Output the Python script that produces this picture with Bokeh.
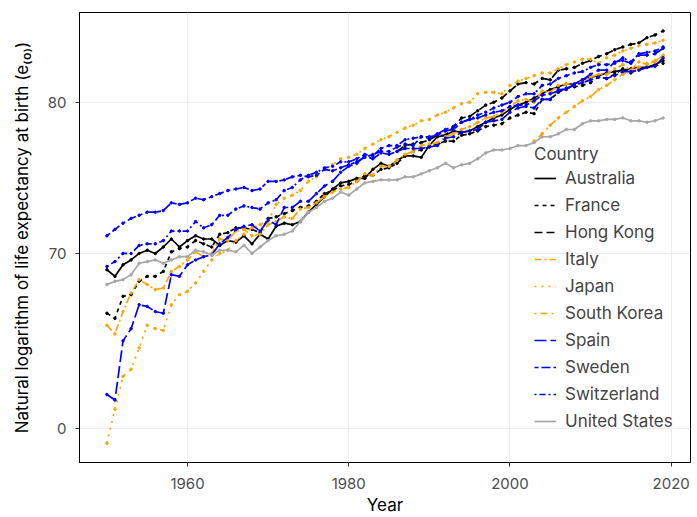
from bokeh.plotting import figure
from bokeh.models import (Range1d, FixedTicker, Legend, LegendItem,
                          BasicTickFormatter, ColumnDataSource)
from bokeh.embed import file_html
from bokeh.resources import INLINE

years = list(range(1950, 2020))
years_hk = list(range(1986, 2020))
years_kr = list(range(2003, 2020))

australia = [69.0, 68.6, 69.3, 69.6, 70.0, 70.2, 70.0, 70.4, 70.9, 70.4,
             70.8, 71.1, 70.9, 70.9, 70.5, 70.8, 70.7, 71.1, 70.6, 71.2,
             70.9, 71.7, 71.9, 71.8, 72.0, 72.6, 73.1, 73.6, 74.1, 74.5,
             74.6, 74.8, 74.8, 75.4, 75.8, 75.6, 76.0, 76.3, 76.3, 76.2,
             77.0, 77.6, 77.7, 78.0, 77.9, 78.0, 78.3, 78.6, 78.9, 79.1,
             79.5, 79.8, 80.0, 80.3, 80.6, 80.9, 81.1, 81.3, 81.3, 81.6,
             81.8, 81.9, 82.1, 82.2, 82.3, 82.4, 82.5, 82.5, 82.7, 83.0]
france = [66.4, 66.1, 67.4, 67.5, 68.3, 68.6, 68.6, 68.9, 70.1, 70.3,
          70.4, 70.8, 70.6, 70.4, 71.2, 71.3, 71.6, 71.6, 71.5, 71.3,
          72.2, 72.3, 72.5, 72.7, 72.9, 73.0, 73.3, 73.8, 74.0, 74.3,
          74.4, 74.6, 75.0, 75.0, 75.4, 75.5, 75.8, 76.3, 76.6, 76.7,
          76.9, 77.1, 77.3, 77.3, 77.7, 77.8, 78.0, 78.3, 78.4, 78.5,
          78.9, 79.1, 79.3, 79.2, 80.2, 80.2, 80.7, 81.0, 81.1, 81.2,
          81.4, 81.8, 81.7, 82.0, 82.4, 82.1, 82.4, 82.5, 82.6, 82.8]
hong_kong = [76.6, 77.0, 77.1, 77.2, 77.4, 77.7, 77.7, 78.3, 78.9, 79.0,
             79.4, 79.8, 80.0, 80.3, 80.8, 81.3, 81.4, 81.3, 81.7, 81.6,
             82.3, 82.4, 82.5, 82.8, 83.0, 83.3, 83.5, 83.8, 84.0, 84.2,
             84.3, 84.7, 84.9, 85.2]
italy = [65.7, 65.2, 66.5, 67.6, 68.4, 68.1, 67.8, 67.9, 68.9, 69.2,
         69.6, 70.1, 69.8, 70.0, 70.9, 70.8, 71.4, 71.5, 71.1, 71.2,
         71.8, 72.0, 72.3, 72.2, 72.8, 72.9, 73.2, 73.6, 73.9, 74.1,
         74.2, 74.6, 75.1, 75.0, 75.6, 75.6, 76.0, 76.4, 76.6, 77.0,
         77.1, 77.2, 77.6, 77.8, 78.1, 78.3, 78.6, 78.9, 79.0, 79.3,
         79.7, 80.1, 80.2, 80.0, 80.8, 80.7, 81.2, 81.3, 81.3, 81.5,
         81.8, 82.0, 82.0, 82.4, 82.7, 82.3, 82.9, 82.7, 83.0, 83.3]
japan = [59.2, 61.0, 62.8, 63.2, 64.4, 65.7, 65.5, 65.4, 66.9, 67.5,
         67.7, 68.2, 68.9, 69.6, 70.0, 70.2, 70.8, 71.2, 71.6, 71.8,
         72.0, 73.1, 73.5, 73.7, 74.0, 74.6, 74.9, 75.4, 75.7, 76.1,
         76.2, 76.4, 76.8, 77.1, 77.4, 77.6, 77.9, 78.2, 78.4, 78.7,
         78.8, 79.1, 79.3, 79.6, 79.9, 80.0, 80.6, 80.7, 80.7, 80.6,
         81.2, 81.5, 81.7, 81.9, 82.1, 82.1, 82.4, 82.7, 82.9, 83.1,
         83.1, 82.8, 83.2, 83.4, 83.7, 83.9, 84.1, 84.2, 84.3, 84.5]
south_korea = [77.3, 77.8, 78.4, 78.9, 79.3, 79.7, 80.1, 80.4, 80.9, 81.2,
               81.6, 82.0, 82.2, 82.5, 82.8, 82.9, 83.4]
spain = [61.8, 61.5, 64.8, 65.5, 66.9, 66.8, 66.5, 66.4, 68.7, 68.6,
         69.3, 69.6, 69.8, 69.9, 70.6, 71.0, 71.5, 71.7, 71.8, 71.4,
         72.1, 71.8, 72.9, 72.9, 73.3, 73.3, 73.8, 74.3, 74.6, 75.2,
         75.6, 75.8, 76.3, 76.1, 76.5, 76.4, 76.6, 76.8, 76.8, 76.8,
         76.9, 77.0, 77.5, 77.6, 77.9, 78.0, 78.1, 78.6, 78.7, 78.8,
         79.3, 79.6, 79.7, 79.6, 80.2, 80.2, 80.9, 80.9, 81.3, 81.6,
         82.0, 82.3, 82.3, 82.9, 83.0, 82.8, 83.4, 83.4, 83.5, 83.9]
sweden = [71.1, 71.5, 71.9, 72.2, 72.4, 72.6, 72.6, 72.7, 73.2, 73.1,
          73.2, 73.5, 73.4, 73.6, 73.8, 74.0, 74.1, 74.2, 74.0, 74.1,
          74.6, 74.6, 74.7, 74.9, 75.0, 74.9, 75.0, 75.4, 75.3, 75.5,
          75.7, 75.9, 76.2, 76.4, 76.6, 76.6, 76.9, 77.1, 77.0, 77.6,
          77.6, 77.7, 78.0, 78.1, 78.6, 78.8, 78.9, 79.1, 79.3, 79.4,
          79.7, 79.8, 79.8, 80.1, 80.5, 80.6, 80.8, 81.0, 81.2, 81.4,
          81.6, 81.8, 81.7, 81.9, 82.2, 82.2, 82.3, 82.5, 82.6, 83.2]
switzerland = [69.2, 69.5, 70.0, 70.0, 70.5, 70.6, 70.6, 70.8, 71.4, 71.4,
               71.4, 72.0, 71.6, 71.8, 72.4, 72.4, 72.8, 73.0, 72.9, 72.8,
               73.2, 73.4, 74.0, 74.2, 74.7, 75.0, 75.2, 75.5, 75.6, 75.9,
               75.9, 76.1, 76.4, 76.3, 76.8, 77.0, 77.0, 77.4, 77.5, 77.6,
               77.5, 77.8, 78.1, 78.3, 78.6, 78.8, 79.1, 79.3, 79.6, 79.8,
               80.0, 80.4, 80.6, 80.6, 81.2, 81.3, 81.7, 81.9, 82.1, 82.2,
               82.5, 82.7, 82.7, 82.8, 83.2, 82.9, 83.5, 83.6, 83.7, 84.0]
united_states = [68.1, 68.3, 68.4, 68.7, 69.4, 69.5, 69.6, 69.4, 69.6, 69.8,
                 69.8, 70.2, 70.1, 69.9, 70.2, 70.2, 70.1, 70.5, 70.0, 70.4,
                 70.8, 71.1, 71.2, 71.4, 72.0, 72.6, 72.9, 73.3, 73.5, 73.9,
                 73.7, 74.1, 74.5, 74.6, 74.7, 74.7, 74.7, 74.9, 74.9, 75.1,
                 75.3, 75.5, 75.8, 75.5, 75.7, 75.8, 76.1, 76.5, 76.7, 76.7,
                 76.8, 77.0, 77.0, 77.2, 77.6, 77.6, 77.8, 78.1, 78.1, 78.5,
                 78.7, 78.7, 78.8, 78.8, 78.9, 78.7, 78.7, 78.6, 78.7, 78.9]

countries = ["Australia", "France", "Hong Kong", "Italy", "Japan",
             "South Korea", "Spain", "Sweden", "Switzerland", "United States"]
series = [(years, australia), (years, france), (years_hk, hong_kong),
          (years, italy), (years, japan), (years_kr, south_korea),
          (years, spain), (years, sweden), (years, switzerland),
          (years, united_states)]
colors = ["#000000", "#000000", "#000000", "#FFA500", "#FFA500", "#FFA500",
          "#0000FF", "#0000FF", "#0000FF", "#A6A6A6"]
dashes = ["solid", "4 4", "8 4", "7 3 2 3", "2 5", "2 4 7 4",
          "12 4", "4 3 9 3", "2 3 6 3", "solid"]

x_ticks = [1960, 1980, 2000, 2020]
y_ticks = [60, 70, 80]
y_tick_labels = {60: "0", 70: "70", 80: "80"}

FONT = "Inter"

p = figure(width=697, height=517, y_axis_type="log",
           x_range=Range1d(1946.6, 2022.4), y_range=Range1d(58.2, 86.6),
           output_backend="svg", toolbar_location=None,
           min_border_left=79, min_border_top=12, min_border_right=7,
           min_border_bottom=53,
           x_axis_label="Year",
           y_axis_label="Natural logarithm of life expectancy at birth (e\u208d\u2080\u208e)")

p.outline_line_color = "black"
p.outline_line_width = 1
p.background_fill_color = "white"

p.xaxis.ticker = FixedTicker(ticks=x_ticks)
p.yaxis.ticker = FixedTicker(ticks=y_ticks)
p.yaxis.formatter = BasicTickFormatter()
p.yaxis.major_label_overrides = y_tick_labels

for ax in (p.xaxis[0], p.yaxis[0]):
    ax.axis_line_color = "black"
    ax.axis_line_width = 1
    ax.major_tick_line_color = "#333333"
    ax.major_tick_out = 4
    ax.major_tick_in = 0
    ax.minor_tick_line_color = None
    ax.major_label_text_font = FONT
    ax.major_label_text_font_size = "15px"
    ax.major_label_text_color = "#4D4D4D"
    ax.axis_label_text_font = FONT
    ax.axis_label_text_font_size = "17px"
    ax.axis_label_text_font_style = "normal"
    ax.axis_label_text_color = "black"
p.xaxis.major_label_standoff = 11
p.xaxis.axis_label_standoff = 3
p.yaxis.major_label_standoff = 9
p.yaxis.axis_label_standoff = 13

p.xgrid.grid_line_color = "#EDEDED"
p.ygrid.grid_line_color = "#EDEDED"
p.xgrid.grid_line_width = 1
p.ygrid.grid_line_width = 1

items = []
for name, (xs, ys), c, d in zip(countries, series, colors, dashes):
    src = ColumnDataSource(dict(x=xs, y=ys))
    r1 = p.line("x", "y", source=src, line_color=c, line_width=1.7,
                line_dash=d)
    p.scatter("x", "y", source=src, size=2.5, color=c)
    items.append(LegendItem(label=name, renderers=[r1]))

legend = Legend(items=items, location=(455, 28), title="Country",
                title_text_font=FONT, title_text_font_size="17px",
                title_text_font_style="normal", title_standoff=0,
                label_text_font=FONT, label_text_font_size="17px",
                glyph_width=22, glyph_height=20, label_height=27,
                label_standoff=9, spacing=0, padding=0, margin=0,
                background_fill_alpha=0, border_line_alpha=0)
p.add_layout(legend, "center")

open("out.html", "w").write(file_html(p, INLINE))
